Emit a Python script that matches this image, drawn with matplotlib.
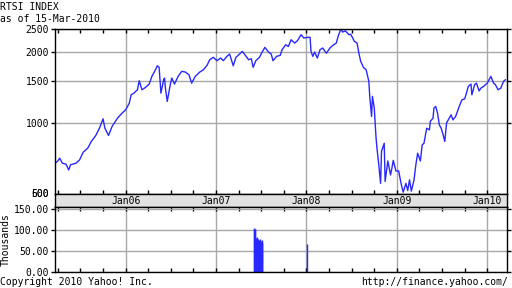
import matplotlib
matplotlib.use("Agg")
import matplotlib.pyplot as plt
import matplotlib.ticker as tck
import numpy as np

plt.rcParams['font.family'] = 'DejaVu Sans Mono'
plt.rcParams['font.size'] = 7

# RTSI index, x in decimal years
t = [2005.22, 2005.25, 2005.27, 2005.30, 2005.34, 2005.37, 2005.39, 2005.45, 2005.49, 2005.53,
     2005.58, 2005.62, 2005.67, 2005.71, 2005.75, 2005.77, 2005.81, 2005.85, 2005.91, 2005.96,
     2006.00, 2006.04, 2006.06, 2006.09, 2006.13, 2006.15, 2006.18, 2006.22, 2006.26, 2006.29,
     2006.33, 2006.35, 2006.37, 2006.39, 2006.42, 2006.43, 2006.44, 2006.46, 2006.49, 2006.51,
     2006.54, 2006.58, 2006.62, 2006.66, 2006.70, 2006.73, 2006.77, 2006.82, 2006.86, 2006.90,
     2006.93, 2006.97, 2007.01, 2007.05, 2007.08, 2007.12, 2007.15, 2007.19, 2007.22, 2007.26,
     2007.29, 2007.32, 2007.36, 2007.39, 2007.41, 2007.44, 2007.48, 2007.51, 2007.54, 2007.58,
     2007.61, 2007.63, 2007.67, 2007.71, 2007.73, 2007.77, 2007.80, 2007.83, 2007.87, 2007.90,
     2007.94, 2007.97, 2008.02, 2008.04, 2008.05, 2008.07, 2008.09, 2008.12, 2008.15, 2008.18,
     2008.22, 2008.26, 2008.29, 2008.33, 2008.35, 2008.38, 2008.40, 2008.43, 2008.47, 2008.49,
     2008.53, 2008.56, 2008.58, 2008.60, 2008.63, 2008.66, 2008.69, 2008.70, 2008.72, 2008.73,
     2008.75, 2008.77, 2008.78, 2008.80, 2008.82, 2008.83, 2008.86, 2008.87, 2008.90, 2008.93,
     2008.945, 2008.96, 2008.99, 2009.02, 2009.05, 2009.07, 2009.10, 2009.12, 2009.14, 2009.16,
     2009.19, 2009.21, 2009.23, 2009.26, 2009.28, 2009.30, 2009.33, 2009.36, 2009.37, 2009.40,
     2009.41, 2009.43, 2009.45, 2009.47, 2009.49, 2009.51, 2009.53, 2009.55, 2009.58, 2009.60,
     2009.62, 2009.65, 2009.69, 2009.72, 2009.75, 2009.77, 2009.79, 2009.82, 2009.83, 2009.86,
     2009.88, 2009.91, 2009.93, 2009.96, 2010.00, 2010.04, 2010.07, 2010.09, 2010.12, 2010.15,
     2010.18, 2010.20]
price = [678, 693, 712, 678, 672, 635, 668, 678, 700, 754,
         784, 837, 888, 952, 1043, 952, 888, 969, 1050, 1102,
         1138, 1214, 1316, 1338, 1382, 1509, 1382, 1415, 1461, 1574,
         1679, 1745, 1719, 1338, 1523, 1549, 1405, 1235, 1429, 1549,
         1461, 1574, 1653, 1642, 1599, 1475, 1574, 1642, 1679, 1752,
         1850, 1894, 1833, 1881, 1833, 1912, 1955, 1745, 1894, 1955,
         2007, 1940, 1850, 1868, 1719, 1833, 1894, 1993, 2086, 1993,
         1955, 1833, 1912, 1930, 2039, 2140, 2105, 2246, 2175, 2225,
         2358, 2285, 2300, 2300, 2007, 1912, 1993, 1881, 2039, 2073,
         1970, 2073, 2124, 2175, 2320, 2493, 2420, 2450, 2358, 2370,
         2211, 2175, 1970, 1821, 1719, 1679, 1500, 1296, 1067, 1296,
         1157, 864, 784, 668, 558, 760, 823, 568, 693, 605,
         646, 697, 629, 629, 549, 512, 558, 520, 577, 517,
         577, 668, 747, 693, 810, 823, 952, 937, 1017, 1050,
         1157, 1176, 1102, 983, 952, 899, 837, 1003, 1050, 1084,
         1032, 1067, 1176, 1254, 1266, 1338, 1429, 1461, 1316, 1452,
         1475, 1367, 1405, 1429, 1475, 1574, 1475, 1452, 1382, 1405,
         1500, 1523]

# volume, thousands
vol_t = [2007.421, 2007.425, 2007.429, 2007.433, 2007.437, 2007.441, 2007.445, 2007.449,
         2007.453, 2007.457, 2007.461, 2007.465, 2007.469, 2007.473, 2007.477, 2007.481,
         2007.485, 2007.489, 2007.493, 2007.497, 2007.501, 2007.505, 2007.509, 2007.513,
         2008.003]
vol = [105, 104, 103, 104, 40, 55, 82, 80, 84, 78,
       80, 70, 72, 66, 76, 78, 74, 75, 72, 70,
       74, 76, 73, 70, 67]

years = [2006, 2007, 2008, 2009, 2010]
year_labels = ['Jan06', 'Jan07', 'Jan08', 'Jan09', 'Jan10']
price_ticks = [1000, 1500, 2000, 2500]
vol_ticks = [0, 50, 100, 150]

blue = '#2828ff'
grid = '#a8a8a8'
x0, x1 = 2005.215, 2010.215
quarters = np.arange(2005.25, 2010.2, 0.25)

fig = plt.figure(figsize=(5.12, 2.88), dpi=100)
L, R = 54.7 / 512, 506.7 / 512
def ypos(px):
    return 1 - px / 288

ax = fig.add_axes([L, ypos(194), R - L, ypos(28.7) - ypos(194)])
band = fig.add_axes([L, ypos(207.3), R - L, ypos(194) - ypos(207.3)])
axv = fig.add_axes([L, ypos(272), R - L, ypos(207.3) - ypos(272)])

# price panel
ax.plot(t, price, color=blue, lw=1.0)
ax.set_yscale('log')
ax.set_ylim(503, 2500)
ax.set_xlim(x0, x1)
ax.set_yticks(price_ticks)
ax.yaxis.set_minor_locator(tck.NullLocator())
ax.set_yticklabels([str(v) for v in price_ticks])
ax.set_xticks(years)
ax.set_xticklabels([])
ax.xaxis.set_minor_locator(tck.FixedLocator(quarters))
ax.grid(True, which='major', color=grid, lw=1)
ax.set_axisbelow(True)
ax.tick_params(axis='x', which='both', direction='in', top=True, bottom=True, length=3, width=1)
ax.tick_params(axis='y', which='major', direction='out', left=True, right=True, length=3, width=1, pad=1)
for lbl in ['500', '600']:
    ax.text(-0.012, 0, lbl, transform=ax.transAxes, ha='right', va='center')

# date band
band.set_facecolor('#e2e2e2')
band.set_xlim(x0, x1)
band.set_ylim(0, 1)
band.set_yticks([])
band.set_xticks([])
for x, lbl in zip(years, year_labels):
    band.text(x, 0.45, lbl, ha='center', va='center')

# volume panel
axv.vlines(vol_t, 0, vol, color=blue, lw=1.0)
axv.set_xlim(x0, x1)
axv.set_ylim(0, 155)
axv.set_yticks(vol_ticks)
axv.set_yticklabels(['%.2f' % v for v in vol_ticks])
axv.set_ylabel('Thousands', labelpad=2)
axv.set_xticks(years)
axv.set_xticklabels([])
axv.xaxis.set_minor_locator(tck.FixedLocator(quarters))
axv.grid(True, which='major', color=grid, lw=1)
axv.set_axisbelow(True)
axv.tick_params(axis='x', which='both', direction='in', top=True, bottom=True, length=3, width=1)
axv.tick_params(axis='y', direction='out', left=True, right=True, length=3, width=1, pad=1)

for a in (ax, band, axv):
    for s in a.spines.values():
        s.set_linewidth(1)

fig.text(0.0, ypos(6.7), 'RTSI INDEX', ha='left', va='center')
fig.text(0.0, ypos(19.5), 'as of 15-Mar-2010', ha='left', va='center')
fig.text(0.0, ypos(282), 'Copyright 2010 Yahoo! Inc.', ha='left', va='center')
fig.text(508 / 512, ypos(282), 'http://finance.yahoo.com/', ha='right', va='center')

fig.savefig('out.png', dpi=100)
